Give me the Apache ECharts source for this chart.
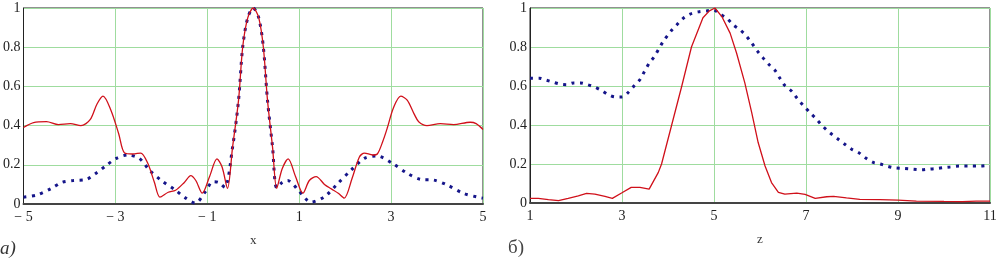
<!DOCTYPE html>
<html lang="ru" style="height: 100%">
<head>
  <meta charset="utf-8">
  <script type="text/javascript" src="https://cdn.jsdelivr.net/npm/echarts@6/dist/echarts.min.js"></script>
</head>
<body style="height: 100%; margin: 0; background: #fff">
  <div id="main" style="height: 262px; width: 1001px"></div>

  <script type="text/javascript">
    // panel a) : x from -5 to 5
    var aRedX = [-5, -4.78, -4.5, -4.24, -3.98, -3.75, -3.55, -3.4, -3.27, -3.1, -2.93, -2.8, -2.62, -2.45, -2.3, -2.15, -2.03,
      -1.85, -1.69, -1.5, -1.36, -1.25, -1.11, -0.95, -0.79, -0.68, -0.56, -0.45, -0.32, -0.23, -0.12, 0,
      0.12, 0.22, 0.31, 0.42, 0.51, 0.63, 0.76, 0.92, 1.08, 1.22, 1.37, 1.55, 1.7, 1.85, 1.98,
      2.15, 2.31, 2.42, 2.6, 2.7, 2.82, 2.92, 3.05, 3.21, 3.35, 3.5, 3.6, 3.78, 4.07, 4.36, 4.72, 4.85, 5];
    var aRedY = [0.39, 0.415, 0.42, 0.405, 0.41, 0.40, 0.43, 0.51, 0.55, 0.48, 0.36, 0.26, 0.255, 0.26, 0.21, 0.11, 0.035,
      0.06, 0.07, 0.11, 0.145, 0.12, 0.055, 0.14, 0.23, 0.19, 0.08, 0.29, 0.53, 0.8, 0.95, 1.0,
      0.95, 0.8, 0.53, 0.29, 0.08, 0.18, 0.23, 0.14, 0.055, 0.12, 0.14, 0.1, 0.077, 0.055, 0.03,
      0.13, 0.24, 0.26, 0.25, 0.255, 0.32, 0.39, 0.49, 0.55, 0.53, 0.46, 0.42, 0.40, 0.41, 0.405, 0.417, 0.41, 0.38];

    var aBlueX = [-5, -4.71, -4.39, -4.17, -3.92, -3.63, -3.42, -3.2, -2.98, -2.73, -2.48, -2.26, -2.0, -1.69, -1.47, -1.26,
      -1.04, -0.88, -0.75, -0.62, -0.45, -0.32, -0.23, -0.12, 0, 0.12, 0.22, 0.31, 0.42, 0.51, 0.63, 0.75, 0.87, 0.98,
      1.26, 1.55, 1.84, 2.13, 2.42, 2.7, 3.03, 3.35, 3.64, 3.93, 4.22, 4.57, 4.9, 5];
    var aBlueY = [0.035, 0.046, 0.08, 0.11, 0.12, 0.126, 0.157, 0.196, 0.233, 0.25, 0.233, 0.173, 0.12, 0.07, 0.03, 0.005,
      0.063, 0.114, 0.11, 0.085, 0.29, 0.53, 0.8, 0.95, 1.0, 0.95, 0.8, 0.53, 0.29, 0.083, 0.11, 0.12, 0.1, 0.07,
      0.01, 0.037, 0.105, 0.173, 0.233, 0.245, 0.207, 0.157, 0.126, 0.122, 0.097, 0.055, 0.034, 0.03];

    // panel б) : z from 1 to 11
    var bRedX = [1.0, 1.18, 1.4, 1.62, 1.83, 2.05, 2.23, 2.41, 2.63, 2.79, 2.99, 3.2, 3.39, 3.59, 3.79, 3.86, 4.08, 4.3, 4.51, 4.76, 4.9, 5.02,
      5.17, 5.35, 5.49, 5.67, 5.82, 5.96, 6.11, 6.25, 6.4, 6.54, 6.8, 6.98, 7.2, 7.45, 7.6, 7.88, 8.17, 8.61, 9.0, 9.4, 10.0, 10.4, 10.7, 11];
    var bRedY = [0.024, 0.024, 0.017, 0.012, 0.024, 0.037, 0.049, 0.046, 0.034, 0.024, 0.051, 0.08, 0.08, 0.071, 0.157, 0.2, 0.4, 0.6, 0.8, 0.95, 0.985, 1.0,
      0.956, 0.871, 0.769, 0.616, 0.463, 0.31, 0.19, 0.105, 0.055, 0.046, 0.051, 0.044, 0.024, 0.032, 0.034, 0.026, 0.019, 0.017, 0.015, 0.01, 0.008, 0.007, 0.01, 0.01];

    var bBlueX = [1, 1.2, 1.35, 1.5, 1.65, 1.8, 1.95, 2.1, 2.25, 2.4, 2.55, 2.7, 2.85, 3.0, 3.14, 3.27, 3.4, 3.5, 3.6, 3.7, 3.8, 3.9,
      4.07, 4.19, 4.33, 4.48, 4.66, 4.84, 4.98, 5.13, 5.28, 5.42, 5.57, 5.71, 5.82, 5.94, 6.07, 6.2, 6.33, 6.43, 6.54, 6.69, 6.8,
      6.94, 7.09, 7.23, 7.38, 7.52, 7.7, 7.85, 7.99, 8.14, 8.28, 8.46, 8.61, 8.75, 8.93, 9.12, 9.33, 9.51, 9.66, 9.84, 10.0, 10.13,
      10.35, 10.57, 10.78, 11];
    var bBlueY = [0.64, 0.64, 0.63, 0.62, 0.61, 0.607, 0.616, 0.616, 0.607, 0.595, 0.578, 0.556, 0.544, 0.544, 0.568, 0.602, 0.636, 0.68, 0.72, 0.75, 0.79, 0.83,
      0.883, 0.913, 0.947, 0.969, 0.98, 0.985, 0.99, 0.969, 0.947, 0.913, 0.888, 0.854, 0.82, 0.78, 0.743, 0.709, 0.679, 0.641, 0.602, 0.573, 0.539,
      0.5, 0.463, 0.429, 0.39, 0.36, 0.327, 0.3, 0.276, 0.259, 0.233, 0.208, 0.2, 0.19, 0.18, 0.177, 0.173, 0.17, 0.173, 0.177, 0.182, 0.185,
      0.19, 0.19, 0.19, 0.194];

    function pairs(xs, ys) {
      var out = [];
      for (var i = 0; i < xs.length; i++) out.push([xs[i], ys[i]]);
      return out;
    }

    var font = '"Liberation Serif", "DejaVu Serif", serif';
    var red = '#d0101a';
    var blue = '#15158a';
    var green = '#9fdc9f';

    function xAx(idx, min, max, name) {
      return {
        type: 'value', gridIndex: idx, min: min, max: max, interval: 2,
        name: name, nameLocation: 'middle', nameGap: 30,
        nameTextStyle: { fontFamily: font, fontSize: 13, color: '#333' },
        axisLine: { show: true, onZero: false, lineStyle: { color: '#444', width: 2 } },
        axisTick: { show: false },
        splitLine: { show: true, lineStyle: { color: green, width: 1 } },
        axisLabel: {
          fontFamily: font, fontSize: 14, color: '#222', margin: 6,
          formatter: function (v) { return v < 0 ? '\u2212 ' + Math.abs(v) : String(v); }
        }
      };
    }
    function yAx(idx) {
      return {
        type: 'value', gridIndex: idx, min: 0, max: 1, interval: 0.2,
        axisLine: { show: true, onZero: false, lineStyle: { color: '#222', width: 1 } },
        axisTick: { show: false },
        splitLine: { show: true, lineStyle: { color: green, width: 1 } },
        axisLabel: { fontFamily: font, fontSize: 14, color: '#222', margin: 3 }
      };
    }

    var chart = echarts.init(document.getElementById('main'));
    var option = {
      animation: false,
      grid: [
        { left: 20, top: 8, width: 463, height: 196, show: true, borderColor: '#222', borderWidth: 1 },
        { left: 530, top: 8, width: 460, height: 195, show: true, borderColor: '#222', borderWidth: 1 }
      ],
      xAxis: [xAx(0, -5, 5, 'x'), xAx(1, 1, 11, 'z')],
      yAxis: [yAx(0), yAx(1)],
      graphic: [
        { type: 'text', left: 0, top: 239, style: { text: 'а)', font: 'italic 19px ' + font, fill: '#333' } },
        { type: 'text', left: 508, top: 239, style: { text: 'б)', font: '19px ' + font, fill: '#444' } }
      ],
      series: [
        { type: 'line', xAxisIndex: 0, yAxisIndex: 0, data: pairs(aBlueX, aBlueY), smooth: 0.3, showSymbol: false,
          lineStyle: { color: blue, width: 3, type: [3, 5.5] } },
        { type: 'line', xAxisIndex: 0, yAxisIndex: 0, data: pairs(aRedX, aRedY), smooth: 0.3, showSymbol: false,
          lineStyle: { color: red, width: 1.3 } },
        { type: 'line', xAxisIndex: 1, yAxisIndex: 1, data: pairs(bBlueX, bBlueY), smooth: 0.3, showSymbol: false,
          lineStyle: { color: blue, width: 3, type: [3, 5.5] } },
        { type: 'line', xAxisIndex: 1, yAxisIndex: 1, data: pairs(bRedX, bRedY), smooth: false, showSymbol: false,
          lineStyle: { color: red, width: 1.3 } }
      ]
    };
    chart.setOption(option);
  </script>
</body>
</html>
